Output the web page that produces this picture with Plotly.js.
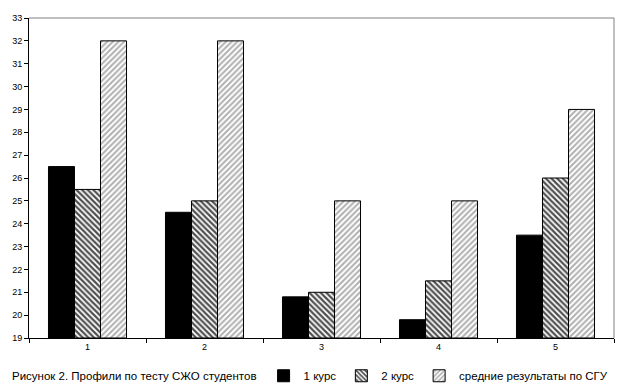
<!DOCTYPE html>
<html>
<head>
<meta charset="utf-8">
<script src="https://cdn.plot.ly/plotly-3.0.1.min.js"></script>
<style>html,body{margin:0;padding:0;background:#fff;}#chart{width:624px;height:388px;}</style>
</head>
<body>
<div id="chart"></div>
<script>
const categories = ["1", "2", "3", "4", "5"];
const course1 = [26.5, 24.5, 20.8, 19.8, 23.5];
const course2 = [25.5, 25, 21, 21.5, 26];
const sguAverage = [32, 32, 25, 25, 29];
const seriesNames = ["1 курс", "2 курс", "средние результаты по СГУ"];
const yTicks = [19,20,21,22,23,24,25,26,27,28,29,30,31,32,33];
const captionText = "Рисунок 2. Профили по тесту СЖО студентов";

const base = 19;
const traces = [
  {type:"bar", name:seriesNames[0], x:categories, y:course1.map(v=>v-base), base:base,
   marker:{color:"#000000", line:{color:"#000000", width:1}}},
  {type:"bar", name:seriesNames[1], x:categories, y:course2.map(v=>v-base), base:base,
   marker:{color:"#ffffff", line:{color:"#000000", width:1},
     pattern:{shape:"\\", fgcolor:"#505050", bgcolor:"#ffffff", size:4, solidity:0.55}}},
  {type:"bar", name:seriesNames[2], x:categories, y:sguAverage.map(v=>v-base), base:base,
   marker:{color:"#ffffff", line:{color:"#000000", width:1},
     pattern:{shape:"/", fgcolor:"#b0b0b0", bgcolor:"#ffffff", size:4, solidity:0.5}}}
];

const layout = {
  width:624, height:388,
  margin:{l:29, r:10, t:18, b:50, autoexpand:false},
  paper_bgcolor:"#ffffff", plot_bgcolor:"#ffffff",
  font:{family:"Liberation Sans, Arial, sans-serif", size:9, color:"#000"},
  barmode:"group", bargap:0.333, bargroupgap:0,
  showlegend:true,
  legend:{orientation:"h", x:0.401, y:-0.118, xanchor:"left", yanchor:"middle",
    font:{size:11.5, family:"Liberation Sans, Arial, sans-serif"}, itemwidth:30, traceorder:"normal",
    bgcolor:"rgba(0,0,0,0)"},
  xaxis:{type:"category", showgrid:false, zeroline:false, showline:true, linecolor:"#000", linewidth:1,
    ticks:"outside", tickson:"boundaries", ticklen:4, tickcolor:"#000", mirror:false,
    tickfont:{size:9}},
  yaxis:{range:[19,33], tickvals:yTicks, showgrid:false, zeroline:false, showline:true, linecolor:"#000",
    linewidth:1, ticks:"outside", ticklen:4, tickcolor:"#000", tickfont:{size:9}},
  shapes:[
    {type:"line", xref:"paper", yref:"paper", x0:0, x1:1, y0:1, y1:1, line:{color:"#808080", width:1}},
    {type:"line", xref:"paper", yref:"paper", x0:1, x1:1, y0:0, y1:1, line:{color:"#808080", width:1}}
  ],
  annotations:[
    {text:captionText, xref:"paper", yref:"paper", x:-0.033, y:-0.118, xanchor:"left", yanchor:"middle",
     showarrow:false, font:{size:11.5, family:"Liberation Sans, Arial, sans-serif", color:"#000"}}
  ]
};

Plotly.newPlot("chart", traces, layout, {displayModeBar:false, staticPlot:true});
</script>
</body>
</html>
